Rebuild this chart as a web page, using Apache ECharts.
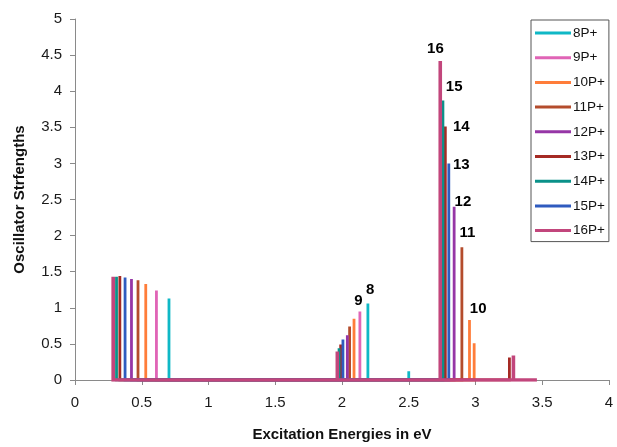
<!DOCTYPE html>
<html>
<head>
<meta charset="utf-8">
<script src="https://cdn.jsdelivr.net/npm/echarts@6/dist/echarts.min.js"></script>
<style>
html,body{margin:0;padding:0;background:#fff;}
#chart{width:617px;height:447px;}
</style>
</head>
<body>
<div id="chart"></div>
<script>
// ---- data ----
var seriesNames = ['8P+','9P+','10P+','11P+','12P+','13P+','14P+','15P+','16P+'];
var seriesColors = ['#0fb8c6','#e064b6','#ff7d3a','#b44c2c','#9636a6','#a52a24','#0a9189','#2f5bbf','#c2467c'];

var energies8  = [0.704, 2.194, 2.50];
var strengths8 = [1.13, 1.06, 0.12];
var energies9  = [0.61, 2.134];
var strengths9 = [1.24, 0.95];
var energies10  = [0.53, 2.09, 2.955, 2.99];
var strengths10 = [1.33, 0.85, 0.83, 0.51];
var energies11  = [0.472, 2.057, 2.898];
var strengths11 = [1.38, 0.74, 1.84];
var energies12  = [0.423, 2.04, 2.84];
var strengths12 = [1.40, 0.62, 2.40];
var energies13  = [0.336, 1.99, 2.774, 3.254];
var strengths13 = [1.44, 0.49, 3.51, 0.31];
var energies14  = [0.311, 1.978, 2.756];
var strengths14 = [1.43, 0.44, 3.87];
var energies15  = [0.375, 2.007, 2.80];
var strengths15 = [1.42, 0.56, 3.00];
var energies16  = [0.286, 1.965, 2.736, 3.284, 3.46];
var strengths16 = [1.43, 0.396, 4.42, 0.34, 0];

var peakLabels   = ['16','15','14','13','12','11','10','9','8'];
var peakLabelX   = [2.70, 2.84, 2.894, 2.894, 2.906, 2.94, 3.02, 2.123, 2.211];
var peakLabelY   = [4.59, 4.06, 3.50, 2.98, 2.47, 2.04, 0.98, 1.10, 1.25];

var xTicks = {min:0, max:4, interval:0.5};
var yTicks = {min:0, max:5, interval:0.5};
// ---------------

var allE = [energies8,energies9,energies10,energies11,energies12,energies13,energies14,energies15,energies16];
var allS = [strengths8,strengths9,strengths10,strengths11,strengths12,strengths13,strengths14,strengths15,strengths16];

function sticks(es, ss){
  var pts = [];
  for (var i=0;i<es.length;i++){
    pts.push([es[i],0]);
    if (ss[i] !== 0) { pts.push([es[i],ss[i]]); pts.push([es[i],0]); }
  }
  return pts;
}

var series = seriesNames.map(function(n,i){
  return {
    name:n, type:'line', data:sticks(allE[i],allS[i]),
    showSymbol:false, symbol:'none', silent:true,
    lineStyle:{color:seriesColors[i], width:(n==='16P+'?3.6:2.8), join:'miter', cap:'butt'},
    itemStyle:{color:seriesColors[i]},
    z: 2 + i
  };
});

series.push({
  type:'scatter', symbolSize:0, silent:true, z:20,
  itemStyle:{opacity:1, color:'#000'},
  data: peakLabels.map(function(t,i){ return [peakLabelX[i], peakLabelY[i], t]; }),
  label:{show:true, position:'inside', formatter:function(p){return p.value[2];},
    fontFamily:'Liberation Sans, Arial, sans-serif', fontWeight:'bold', fontSize:15, color:'#000', opacity:1}
});

var chart = echarts.init(document.getElementById('chart'), null, {renderer:'canvas'});
var axisCol = '#8a8a8a';
chart.setOption({
  animation:false,
  backgroundColor:'#fff',
  textStyle:{fontFamily:'Liberation Sans, Arial, sans-serif'},
  grid:{left:75, right:8, top:19, bottom:63, containLabel:false},
  xAxis:{
    type:'value', min:xTicks.min, max:xTicks.max, interval:xTicks.interval,
    name:'Excitation Energies in eV', nameLocation:'middle', nameGap:47,
    nameTextStyle:{fontFamily:'Liberation Sans, Arial, sans-serif', fontWeight:'bold', fontSize:15, color:'#111'},
    axisLine:{show:true, onZero:false, lineStyle:{color:axisCol, width:1}},
    axisTick:{show:true, inside:false, length:5, lineStyle:{color:axisCol}},
    axisLabel:{fontSize:15, color:'#1a1a1a', margin:15, showMaxLabel:true,
      formatter:function(v){return String(v);}},
    splitLine:{show:false}
  },
  yAxis:{
    type:'value', min:yTicks.min, max:yTicks.max, interval:yTicks.interval,
    name:'Oscillator Strfengths', nameLocation:'middle', nameGap:48,
    nameTextStyle:{fontFamily:'Liberation Sans, Arial, sans-serif', fontWeight:'bold', fontSize:15, color:'#111'},
    axisLine:{show:true, lineStyle:{color:axisCol, width:1}},
    axisTick:{show:true, inside:false, length:5, lineStyle:{color:axisCol}},
    axisLabel:{fontSize:15, color:'#1a1a1a', margin:13},
    splitLine:{show:false}
  },
  legend:{
    show:true, data:seriesNames, orient:'vertical', left:531, top:20,
    icon:'rect', itemWidth:36, itemHeight:3, itemGap:10.7,
    padding:[6,4,4,4], borderColor:'#555', borderWidth:1, backgroundColor:'#fff',
    selectedMode:false,
    textStyle:{fontSize:13.5, lineHeight:14, color:'#111', padding:[0,0,0,-3]}
  },
  series:series
});
</script>
</body>
</html>
